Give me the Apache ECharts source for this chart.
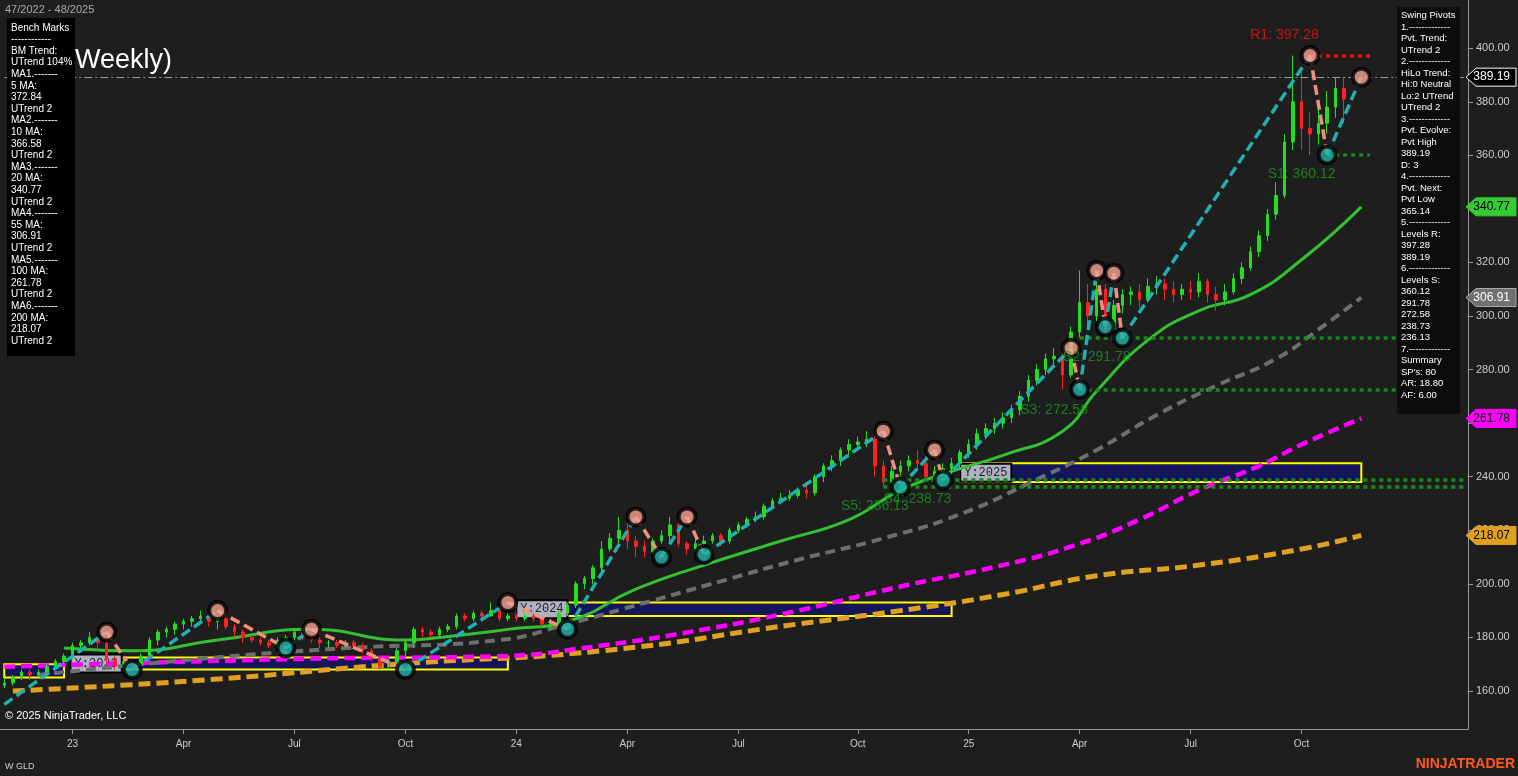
<!DOCTYPE html>
<html><head><meta charset="utf-8">
<script src="https://cdn.jsdelivr.net/npm/echarts@6/dist/echarts.min.js"></script>
<style>html,body{margin:0;padding:0;background:#1e1e1e;}#c{width:1518px;height:776px;}</style>
</head><body><div id="c"></div>
<script>
// ---- data (weekly GLD, k=0 is week of 2022-11-21) ----
const closes=[163,165,167,166,167,169,171,173,177,178,
180,178,172,170,171,170,173,179,182,183,
185,186,187,188,186,187,184,182,180,179,
178,177,179,180,182,180,179,178,178,177,
178,177,175,172,169,170,175,178,183,182,
181,183,184,188,187,189,188,190,187,188,
187,188,187,185,185,189,192,200,202,206,
213,217,220,216,214,212,216,218,222,215,
213,215,216,218,216,220,222,224,225,229,
231,232,233,235,234,240,244,246,250,252,
253,254,244,238,242,244,246,245,240,242,
243,245,249,252,256,258,260,262,265,270,
276,280,284,285,278,294,305,300,310,295,
304,308,309,306,311,312,310,308,310,309,
313,308,306,309,314,318,324,330,338,345,
365,380,370,368,372,378,385,381];
const highs=[165,166,168,168,168,170,172,174,178,179,
182,180,179,173,172,172,174,180,183,184,
186,187,188,190,189,188,188,185,183,181,
180,179,180,181,183,183,181,180,179,179,
179,179,178,176,173,172,176,179,184,184,
183,184,185,189,189,190,190,193,191,189,
189,189,189,188,187,190,193,201,203,207,
216,219,225,223,218,216,217,220,225,224,
216,217,218,219,219,221,223,225,227,230,
232,234,235,236,237,241,245,248,251,254,
255,257,256,246,244,246,248,250,248,244,
245,247,250,254,258,260,262,264,267,272,
278,282,286,288,287,296,317,312,316,312,
306,310,311,312,314,315,314,313,312,313,
316,314,311,312,316,320,326,332,340,350,
368,397.28,393,376,380,384,389.19,389];
const lows=[161,162,164,164,165,166,169,170,172,176,
177,175,170,168,169,168,169,172,177,180,
181,183,184,185,184,183,183,180,178,178,
177,176,176,178,179,179,178,176,176,176,
176,176,174,171,168,168,168,173,176,180,
180,180,182,183,186,186,186,188,186,186,
186,186,186,184,183,184,188,191,198,200,
205,212,215,213,210,210,211,215,215,214,
211,212,214,215,214,215,219,221,223,224,
228,230,231,232,232,233,238,242,244,248,
250,251,240,236.13,237,240,242,243,238.73,239,
240,241,243,247,250,254,256,258,260,263,
268,274,278,281,272.58,277,292,296,298,291.78,
293,301,304,303,305,308,306,305,306,306,
307,305,302,304,308,312,317,322,328,336,
344,362,362,360.12,364,368,374,372];
const ma20=[[5,176],[13,175],[23,179],[34,183],[45,179],[49,180],[57,183],[64,186],[72,198],[80,207],[89,216],[97,224],[103,235],[109,242],[115,248],[122,257],[126,272],[132,291],[138,302],[144,308],[150,321],[157,340.77]];
const ma55=[[2,166],[21,172],[38,176],[56,179],[64,185],[72,192],[82,201],[91,209],[101,217],[110,226],[119,239],[126,250],[133,263],[140,274],[147,284],[152,295],[157,306.91]];
const ma100=[[-2,169],[33,172],[56,173],[68,177],[80,183],[91,190],[103,199],[115,207],[124,215],[131,224],[138,235],[145,244],[150,252],[157,261.78]];
const ma200=[[-1,160],[21,164],[44,170],[68,175],[91,185],[103,190],[115,196],[126,203],[138,207],[150,213],[157,218.07]];
const pivots=[[-2,155,'L'],[10,182,'H'],[13,168,'L'],[23,190,'H'],[31,176,'L'],[34,183,'H'],[45,168,'L'],[57,193,'H'],[64,183,'L'],[72,225,'H'],[75,210,'L'],[78,225,'H'],[80,211,'L'],[101,257,'H'],[103,236.13,'L'],[107,250,'H'],[108,238.73,'L'],[123,288,'H'],[124,272.58,'L'],[126,317,'H'],[127,296,'L'],[128,316,'H'],[129,291.78,'L'],[151,397.28,'H'],[153,360.12,'L'],[157,389.19,'H']];
const levels=[{n:'S1',v:360.12,from:153,to:158,lbl:[151.8,353]},{n:'S2',v:291.78,from:124,to:169,lbl:[128,284.5]},{n:'S3',v:272.58,from:124,to:169,lbl:[123,265]},{n:'S4',v:238.73,from:101,to:169,lbl:[106.5,231.5]},{n:'S5',v:236.13,from:101,to:169,lbl:[101.5,229]}];
const R1={v:397.28,from:151,to:158,lbl:[150,405]};
const yearBoxes=[{n:'',x0:-2,x1:5,lo:165,hi:170},{n:'Y:2023',x0:12,x1:57,lo:168,hi:172.5},{n:'Y:2024',x0:58,x1:109,lo:188,hi:193},{n:'Y:2025',x0:110,x1:157,lo:238,hi:245}];
const yTicks=[160,180,200,220,240,260,280,300,320,340,360,380,400];
const tags=[{v:389.19,bg:'#000',fg:'#fff',bd:'#fff'},{v:340.77,bg:'#33cc33',fg:'#000',bd:'#33cc33'},{v:306.91,bg:'#707070',fg:'#fff',bd:'#aaa'},{v:261.78,bg:'#ff00ff',fg:'#000',bd:'#ff00ff'},{v:218.07,bg:'#e0a020',fg:'#000',bd:'#e0a020'}];
const benchText=['Bench Marks','------------','BM Trend:','UTrend 104%','MA1.-------','5 MA:','372.84','UTrend 2','MA2.-------','10 MA:','366.58','UTrend 2','MA3.-------','20 MA:','340.77','UTrend 2','MA4.-------','55 MA:','306.91','UTrend 2','MA5.-------','100 MA:','261.78','UTrend 2','MA6.-------','200 MA:','218.07','UTrend 2'];
const swingText=['Swing Pivots','1.-------------','Pvt. Trend:','UTrend 2','2.-------------','HiLo Trend:','Hi:0 Neutral','Lo:2 UTrend','UTrend 2','3.-------------','Pvt. Evolve:','Pvt High','389.19','D: 3','4.-------------','Pvt. Next:','Pvt Low','365.14','5.-------------','Levels R:','397.28','389.19','6.-------------','Levels S:','360.12','291.78','272.58','238.73','236.13','7.-------------','Summary',"SP's: 80",'AR: 18.80','AF: 6.00'];

// ---- build ----
const OFF=2, NCAT=172, LAST=157+OFF;
const cats=[]; const d0=new Date(Date.UTC(2022,10,7));
for(let i=0;i<NCAT;i++){cats.push(new Date(d0.getTime()+i*7*864e5));}
const catStr=cats.map(d=>d.toISOString().slice(0,10));
const qIdx=new Set(); cats.forEach((d,i)=>{if(i<=LAST&&d.getUTCMonth()%3===0&&d.getUTCDate()<=7)qIdx.add(i);});
const mon=['Jan','Feb','Mar','Apr','May','Jun','Jul','Aug','Sep','Oct','Nov','Dec'];
const candle=closes.map((c,k)=>[k===0?162:closes[k-1],c,lows[k],highs[k]]);
const sh=a=>a.map(p=>[p[0]+OFF,p[1]]);
const upLeg=[],dnLeg=[];
for(let i=0;i<pivots.length-1;i++){const a=pivots[i],b=pivots[i+1];const t=a[2]==='L'?upLeg:dnLeg;t.push([a[0]+OFF,a[1]],[b[0]+OFF,b[1]],[b[0]+OFF,'-']);}
const lblStyle={color:'#1a9a1a',fontSize:14,fontFamily:'Liberation Sans'};
const ch=echarts.init(document.getElementById('c'));
const graphics=[
 {type:'text',left:5,top:4,style:{text:'47/2022 - 48/2025',fill:'#aaa',font:'11px Liberation Sans'},z:10},
 {type:'text',left:75,top:47,style:{text:'Weekly)',fill:'#fff',font:'27px Liberation Sans'},z:9},
 {type:'rect',shape:{x:7,y:18,width:68,height:338},style:{fill:'#000'},z:10},
 {type:'text',left:11,top:22,style:{text:benchText.join('\n'),fill:'#fff',font:'10px Liberation Sans',lineHeight:11.6},z:11},
 {type:'rect',shape:{x:1397,y:7,width:63,height:407},style:{fill:'#0c0c0c'},z:10},
 {type:'text',left:1401,top:10,style:{text:swingText.join('\n'),fill:'#fff',font:'9.5px Liberation Sans',lineHeight:11.5},z:11},
 {type:'text',left:5,top:710,style:{text:'© 2025 NinjaTrader, LLC',fill:'#fff',font:'11px Liberation Sans'},z:10},
 {type:'text',left:5,top:762,style:{text:'W GLD',fill:'#ccc',font:'9px Liberation Sans'},z:10},
 {type:'text',right:3,top:757,style:{text:'NINJATRADER',fill:'#ff5a1e',font:'bold 14px Liberation Sans'},z:10}
];
const series=[
 {type:'line',data:sh(ma200),showSymbol:false,smooth:true,lineStyle:{color:'#e0a020',width:5,type:[12,6]},z:2},
 {type:'line',data:sh(ma100),showSymbol:false,smooth:true,lineStyle:{color:'#ff00ff',width:4.5,type:[11,6]},z:2},
 {type:'line',data:sh(ma55),showSymbol:false,smooth:true,lineStyle:{color:'#6e6e6e',width:4,type:[10,6]},z:2},
 {type:'line',data:sh(ma20),showSymbol:false,smooth:true,lineStyle:{color:'#33c033',width:3},z:3,
  markArea:{silent:true,data:yearBoxes.map(b=>[{xAxis:b.x0+OFF,yAxis:b.lo,name:b.n,itemStyle:{color:'rgba(20,20,100,0.85)',borderColor:'#ffff00',borderWidth:2},label:{show:!!b.n,position:b.n==='Y:2023'?'left':'insideLeft',distance:2,color:'#222',backgroundColor:'#b0b0c4',padding:[2,3],fontSize:12,fontFamily:'Liberation Mono',borderColor:'#000',borderWidth:2}},{xAxis:b.x1+OFF,yAxis:b.hi}])}},
 {type:'candlestick',data:candle,barWidth:3,itemStyle:{color:'#22dd22',color0:'#ff2020',borderColor:'#22dd22',borderColor0:'#ff2020',borderWidth:1},z:4,
  markLine:{silent:true,symbol:'none',data:[
   ...levels.map(l=>[{coord:[l.from+OFF,l.v],lineStyle:{color:'#1a8a1a',width:3.5,type:[4,4]}},{coord:[l.to+OFF,l.v]}]),
   [{coord:[R1.from+OFF,R1.v],lineStyle:{color:'#ee1111',width:3.5,type:[4,4]}},{coord:[R1.to+OFF,R1.v]}],
   [{coord:[0,389.19],lineStyle:{color:'#999',width:1,type:[8,3,2,3]}},{coord:[NCAT-1,389.19]}]
  ],label:{show:false}}},
 {type:'line',data:upLeg,showSymbol:false,connectNulls:false,lineStyle:{color:'#20b0b0',width:3.5,type:[10,5]},z:5},
 {type:'line',data:dnLeg,showSymbol:false,connectNulls:false,lineStyle:{color:'#f0907a',width:3.5,type:[10,5]},z:5},
 {type:'scatter',data:pivots.slice(1).map(p=>({value:[p[0]+OFF,p[1]],itemStyle:{color:p[2]==='H'?'#f4a090':'#20b0a8'}})),symbolSize:17,itemStyle:{borderColor:'#000',borderWidth:4},z:6},
 {type:'scatter',symbolSize:0,z:7,data:[...levels.map(l=>({value:l.lbl,label:{show:true,formatter:l.n+': '+l.v.toFixed(2),...lblStyle}})),{value:R1.lbl,label:{show:true,formatter:'R1: 397.28',color:'#ee1111',fontSize:14,fontFamily:'Liberation Sans'}}],label:{position:'inside'}}
];
ch.setOption({backgroundColor:'#1e1e1e',animation:false,graphic:graphics,
 grid:{left:0,right:50,top:0,bottom:47},
 xAxis:{type:'category',data:catStr,boundaryGap:true,axisLine:{lineStyle:{color:'#999'}},axisTick:{show:true,alignWithLabel:true,interval:i=>qIdx.has(i),lineStyle:{color:'#999'}},
  axisLabel:{interval:i=>qIdx.has(i),margin:10,color:'#ccc',fontSize:10,fontFamily:'Liberation Sans',formatter:v=>{const d=new Date(v);const m=d.getUTCMonth();return m===0?String(d.getUTCFullYear()%100):mon[m];}},splitLine:{show:false}},
 yAxis:{type:'value',position:'right',min:145.8,max:418,axisLine:{show:true,lineStyle:{color:'#999'}},axisTick:{show:true,length:5,customValues:yTicks,lineStyle:{color:'#999'}},
  axisLabel:{color:'#ccc',fontSize:11,fontFamily:'Liberation Sans',customValues:yTicks,formatter:v=>v.toFixed(2)},splitLine:{show:false}},
 series});
// right-axis value tags, positioned through the y scale
const axX=ch.convertToPixel({gridIndex:0},[0,200])[0];
const gx=1468;
const tagG=[];
tags.forEach(t=>{const y=ch.convertToPixel({yAxisIndex:0},t.v);
 tagG.push({type:'polygon',shape:{points:[[gx-2,y],[gx+8,y-9],[1516,y-9],[1516,y+9],[gx+8,y+9]]},style:{fill:t.bg,stroke:t.bd,lineWidth:1},z:20});
 tagG.push({type:'text',x:1510,y:y,style:{text:t.v.toFixed(2),fill:t.fg,font:'12px Liberation Sans',align:'right',verticalAlign:'middle'},z:21});});
ch.setOption({graphic:graphics.concat(tagG)});
</script></body></html>
